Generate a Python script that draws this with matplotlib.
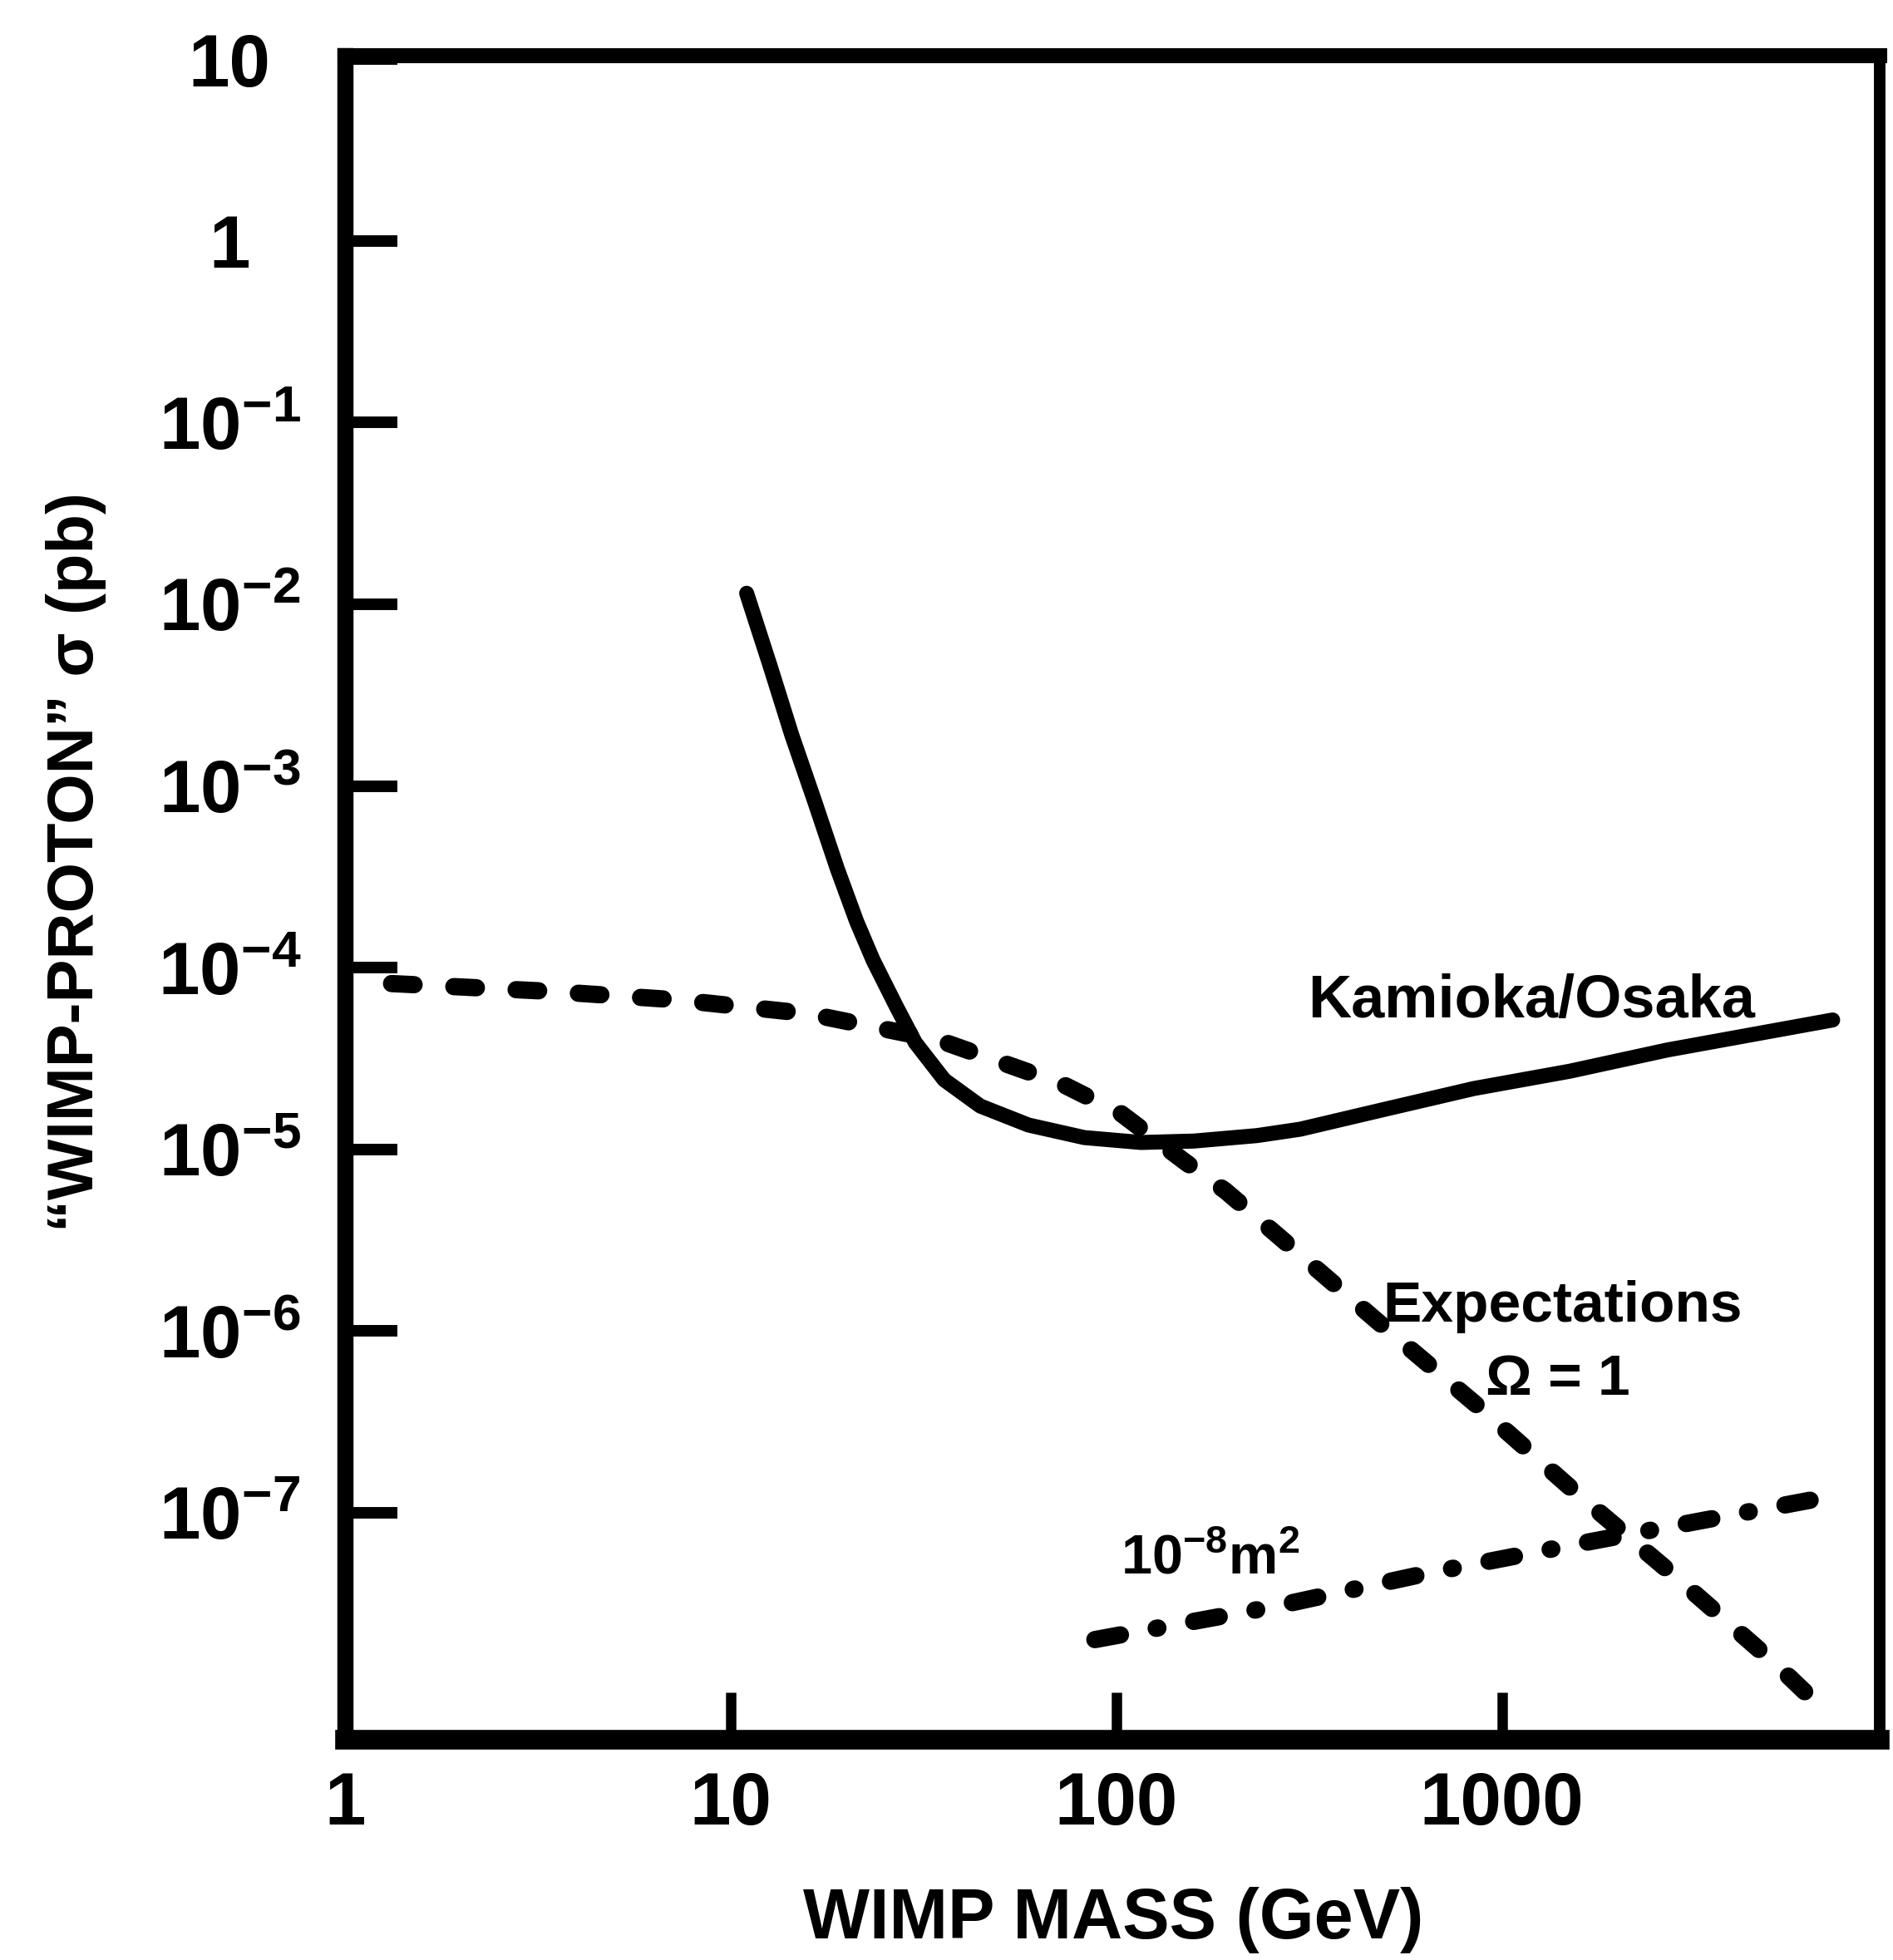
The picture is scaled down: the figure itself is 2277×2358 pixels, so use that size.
import matplotlib
matplotlib.use("Agg")
import matplotlib.pyplot as plt
from matplotlib.ticker import FixedLocator, FixedFormatter, NullLocator

plt.rcParams['font.family'] = ['Liberation Sans', 'DejaVu Sans']
plt.rcParams['font.weight'] = 'bold'
plt.rcParams['mathtext.fontset'] = 'custom'
plt.rcParams['mathtext.rm'] = 'Liberation Sans:bold'
plt.rcParams['mathtext.bf'] = 'Liberation Sans:bold'
plt.rcParams['mathtext.it'] = 'Liberation Sans:bold'
plt.rcParams['mathtext.default'] = 'bf'

# Kamioka/Osaka exclusion limit (solid)
limit_mass = [11.0, 12.66, 14.4, 16.5, 18.9, 21.2, 23.4, 26.9, 30.1, 35.8,
              44.4, 59.2, 82.6, 116, 159, 232, 300, 497, 846, 1500, 2685, 7210]
limit_sigma = [1.15e-2, 4.57e-3, 1.91e-3, 8.26e-4, 3.5e-4, 1.8e-4, 1.1e-4,
               6.1e-5, 3.87e-5, 2.41e-5, 1.73e-5, 1.36e-5, 1.16e-5, 1.09e-5,
               1.11e-5, 1.19e-5, 1.29e-5, 1.66e-5, 2.16e-5, 2.69e-5, 3.52e-5,
               5.15e-5]

# Expectations, Omega = 1 (dashed)
expect_mass = [1.32, 3.37, 7.3, 15.9, 34.5, 72, 103, 150, 192, 259, 471, 859,
               1543, 2810, 5160, 6640]
expect_sigma = [8.17e-5, 7.41e-5, 6.64e-5, 5.58e-5, 4.0e-5, 2.30e-5, 1.57e-5,
                8.6e-6, 5.9e-6, 3.43e-6, 1.15e-6, 3.92e-7, 1.31e-7, 4.47e-8,
                1.45e-8, 8.7e-9]

# 10^-8 m^2 line (dash-dot)
scal_mass = [88, 259, 629, 1590, 6300]
scal_sigma = [2.0e-8, 3.05e-8, 4.6e-8, 6.75e-8, 1.17e-7]

x_ticks = [1, 10, 100, 1000]
x_labels = ['1', '10', '100', '1000']
y_ticks = [10, 1, 1e-1, 1e-2, 1e-3, 1e-4, 1e-5, 1e-6, 1e-7]
y_labels = ['10', '1', r'$10^{-1}$', r'$10^{-2}$', r'$10^{-3}$', r'$10^{-4}$',
            r'$10^{-5}$', r'$10^{-6}$', r'$10^{-7}$']

fig = plt.figure(figsize=(22.77, 23.58), dpi=100)
ax = fig.add_axes([0.1823, 0.1124, 0.8107, 0.8592])
ax.set_xscale('log')
ax.set_yscale('log')
ax.set_xlim(1, 10 ** 3.98)
ax.set_ylim(10 ** -8.25, 10 ** 1.02)

ax.plot(limit_mass, limit_sigma, color='black', lw=13,
        solid_capstyle='round', solid_joinstyle='round')
ax.plot(expect_mass, expect_sigma, color='black', lw=15,
        dashes=(1.3, 2.3), dash_capstyle='round')
ax.plot(scal_mass, scal_sigma, color='black', lw=15,
        dashes=(1.5, 2.1, 0.1, 2.1), dash_capstyle='round')

ax.text(1195, 5.3e-5, 'Kamioka/Osaka', fontsize=52, ha='center', va='baseline')
ax.text(1441, 1.13e-6, 'Expectations', fontsize=50, ha='center', va='baseline')
ax.text(1398, 4.44e-7, '\u03a9 = 1', fontsize=50, ha='center', va='baseline')
ax.text(175, 5.5e-8, r'$10^{-8}m^2$', fontsize=48, ha='center', va='center')

ax.xaxis.set_major_locator(FixedLocator(x_ticks))
ax.xaxis.set_major_formatter(FixedFormatter(x_labels))
ax.xaxis.set_minor_locator(NullLocator())
ax.yaxis.set_major_locator(FixedLocator(y_ticks))
ax.yaxis.set_major_formatter(FixedFormatter(y_labels))
ax.yaxis.set_minor_locator(NullLocator())
ax.xaxis.set_ticks_position('bottom')
ax.yaxis.set_ticks_position('left')
ax.tick_params(axis='x', direction='in', length=41, width=9, pad=57,
               labelsize=64)
ax.tick_params(axis='y', direction='in', length=45, width=10, pad=100,
               labelsize=64)
for lbl in ax.get_xticklabels():
    lbl.set_va('center')
for lbl in ax.get_yticklabels():
    lbl.set_ha('center')

ax.spines['left'].set_linewidth(14)
ax.spines['bottom'].set_linewidth(17)
ax.spines['top'].set_linewidth(13)
ax.spines['right'].set_linewidth(10)

fig.text(0.040, 0.56, '\u201cWIMP-PROTON\u201d \u03c3 (pb)', fontsize=56,
         rotation=90, ha='center', va='center')
fig.text(0.588, 0.0204, 'WIMP MASS (GeV)', fontsize=61, ha='center',
         va='center')

fig.savefig('out.png', dpi=100, facecolor='white')
